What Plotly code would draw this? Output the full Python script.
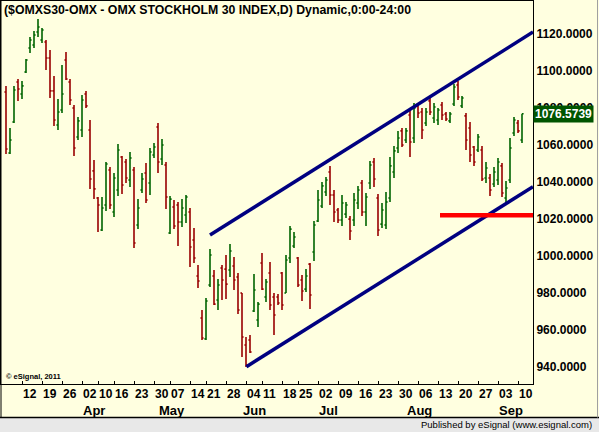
import plotly.graph_objects as go

# ---- data (daily OHLC, trading-day index 0 = 6 Mar 2012 ... 129 = 11 Sep 2012) ----
open_ = [1088.3,1055.4,1072.1,1093.7,1087.2,1099.1,1112.1,1113.7,1120.7,1116.4,
         1115.3,1106.7,1088.9,1070.5,1078.6,1105.6,1093.7,1079.7,1064.0,1067.8,
         1087.2,1067.8,1045.7,1031.1,1013.8,1027.3,1046.2,1023.5,1035.4,1053.2,
         1050.5,1040.8,1046.2,1016.5,1035.4,1044.6,1039.2,1054.3,1069.4,1052.1,
         1048.9,1012.2,1026.2,1027.3,1018.1,1021.9,1023.5,1008.4,989.0,966.3,
         955.0,984.1,989.0,976.0,993.3,992.7,992.2,994.4,988.4,979.8,
         951.7,954.4,970.1,965.2,996.0,977.6,990.6,977.6,977.6,990.6,
         979.8,998.7,1005.2,998.7,986.8,981.9,995.4,1001.9,1018.7,1026.8,
         1034.3,1045.1,1032.7,1024.6,1019.2,1022.4,1019.7,1019.2,1028.4,1039.2,
         1023.5,1039.2,1050.5,1031.1,1017.0,1016.5,1031.1,1045.1,1058.1,1067.3,
         1062.4,1075.9,1063.5,1080.8,1077.5,1071.6,1083.5,1074.3,1073.2,1081.3,
         1076.4,1072.7,1081.8,1092.1,1080.8,1075.4,1068.9,1058.6,1057.0,1057.0,
         1041.9,1041.9,1038.6,1040.8,1048.4,1031.1,1040.8,1066.2,1071.6,1062.4]
high = [1091.6,1068.9,1091.6,1095.3,1094.3,1106.1,1118.0,1121.3,1127.7,1122.9,
        1116.4,1111.0,1097.0,1084.5,1102.9,1109.9,1095.3,1081.3,1074.8,1086.7,
        1088.9,1073.2,1051.6,1031.6,1031.6,1050.5,1047.8,1044.6,1060.2,1053.8,
        1052.1,1055.9,1047.8,1030.5,1044.6,1050.0,1058.1,1060.8,1071.6,1062.9,
        1050.5,1032.2,1030.0,1028.9,1030.5,1032.7,1025.7,1014.9,994.9,970.6,
        977.1,1003.5,992.2,987.3,994.9,1000.3,1006.2,999.2,990.6,979.8,
        956.0,957.1,990.0,974.9,1001.4,987.3,996.5,979.8,979.2,991.1,
        1000.3,1016.0,1012.7,999.2,989.5,992.7,996.0,1018.7,1035.4,1039.7,
        1042.4,1048.4,1035.4,1025.7,1032.7,1028.9,1021.4,1033.8,1037.6,1040.8,
        1033.8,1051.1,1052.7,1033.2,1028.4,1034.3,1053.2,1059.2,1067.3,1068.9,
        1068.9,1079.7,1082.4,1082.4,1079.7,1079.7,1085.1,1082.4,1079.7,1082.9,
        1077.5,1077.5,1092.6,1094.3,1086.2,1077.0,1072.1,1059.2,1065.6,1059.2,
        1050.5,1044.0,1047.8,1052.7,1050.0,1040.3,1063.5,1074.8,1073.2,1076.5739]
low = [1054.8,1054.8,1071.6,1083.5,1084.5,1098.6,1109.4,1112.1,1118.0,1114.8,
       1100.2,1085.1,1070.0,1067.8,1077.0,1094.8,1081.3,1053.8,1062.4,1064.0,
       1079.7,1036.0,1030.5,1012.7,1013.3,1024.1,1025.1,1020.8,1032.2,1033.2,
       1039.2,1037.0,1004.1,1014.3,1033.8,1028.4,1032.7,1052.7,1044.6,1048.9,
       1025.1,1011.6,1014.3,1005.2,1015.4,1017.6,993.8,996.0,982.5,954.4,
       954.4,983.0,973.3,970.6,976.0,976.5,988.4,981.4,968.4,945.2,
       939.8,947.4,969.5,961.4,981.4,974.9,970.6,957.1,973.3,970.6,
       979.8,996.0,1004.1,983.0,975.5,980.3,971.1,997.1,1018.1,1025.7,
       1032.2,1027.3,1018.1,1017.6,1016.0,1020.3,1008.4,1016.0,1025.1,1021.4,
       1016.0,1036.0,1037.0,1010.6,1014.9,1014.3,1028.9,1041.9,1055.4,1058.6,
       1060.8,1053.2,1060.8,1074.3,1062.9,1070.0,1075.9,1071.6,1070.5,1073.2,
       1072.7,1071.6,1080.8,1084.0,1079.7,1057.0,1050.5,1048.4,1055.9,1040.3,
       1039.2,1032.2,1037.0,1038.1,1031.6,1028.4,1039.2,1064.6,1066.2,1060.8]
close = [1057.5,1062.4,1089.4,1089.9,1091.6,1105.6,1116.4,1119.1,1123.4,1121.8,
         1106.7,1088.9,1073.2,1077.5,1087.2,1095.3,1084.0,1058.1,1072.7,1084.0,
         1080.8,1041.3,1036.0,1027.3,1025.7,1049.4,1027.3,1041.9,1057.0,1038.1,
         1041.9,1052.7,1006.8,1025.7,1041.3,1030.0,1055.9,1058.6,1050.5,1059.7,
         1031.6,1030.5,1016.0,1018.1,1025.7,1031.6,1004.6,998.7,986.3,955.5,
         975.5,1000.3,973.8,984.1,986.8,984.6,1002.5,986.8,970.6,956.0,
         940.9,947.9,981.4,973.8,981.9,985.7,973.3,967.9,974.4,973.3,
         997.6,1014.3,1010.0,984.1,980.9,989.0,978.7,1016.5,1030.0,1037.6,
         1040.8,1032.7,1023.5,1019.2,1028.4,1027.3,1013.3,1030.0,1035.4,1023.5,
         1031.6,1048.9,1041.3,1013.8,1024.6,1028.9,1048.4,1056.5,1063.5,1059.7,
         1067.3,1061.3,1079.7,1077.0,1067.8,1077.5,1077.5,1080.2,1078.6,1075.9,
         1073.7,1076.4,1091.0,1085.6,1085.1,1062.4,1054.3,1050.5,1064.0,1041.3,
         1047.3,1035.4,1045.1,1050.5,1033.8,1036.5,1058.1,1073.2,1067.3,1076.5739]

week_idx = [4, 9, 14, 19, 23, 27, 32, 37, 41, 46, 50, 55, 60, 64, 69, 73, 78, 83,
            88, 93, 98, 103, 108, 113, 118, 123, 128]
week_labels = ["12", "19", "26", "02", "10", "16", "23", "30", "07", "14", "21", "28",
               "04", "11", "18", "25", "02", "09", "16", "23", "30", "06", "13", "20",
               "27", "03", "10"]
month_idx = [19, 38, 59, 78, 100, 123]
month_labels = ["Apr", "May", "Jun", "Jul", "Aug", "Sep"]

y_ticks = [940, 960, 980, 1000, 1020, 1040, 1060, 1080, 1100, 1120]
last_price = 1076.5739

upper_x = [51, 131.75]
upper_y = [1011.1, 1120.7]
lower_x = [60.1, 131.75]
lower_y = [940.0, 1037.2]
support_x = [108.5, 131.75]
support_y = [1021.7, 1021.7]

title = "($OMXS30-OMX - OMX STOCKHOLM 30 INDEX,D) Dynamic,0:00-24:00"

BG = "#FFFFE0"
FONT = "Liberation Sans, Arial, sans-serif"

x = list(range(len(close)))

fig = go.Figure()
fig.add_trace(go.Ohlc(
    x=x, open=open_, high=high, low=low, close=close,
    increasing=dict(line=dict(color="#006400", width=1.6)),
    decreasing=dict(line=dict(color="#990000", width=1.6)),
    tickwidth=0.4, hoverinfo="skip", showlegend=False))

for xs, ys, col, w in [(upper_x, upper_y, "#000080", 3.5),
                       (lower_x, lower_y, "#000080", 3.5),
                       (support_x, support_y, "#FF0000", 4.5)]:
    fig.add_trace(go.Scatter(x=xs, y=ys, mode="lines",
                             line=dict(color=col, width=w),
                             hoverinfo="skip", showlegend=False))

fig.update_layout(
    width=599, height=432,
    margin=dict(l=1, r=66, t=1, b=48),
    paper_bgcolor=BG, plot_bgcolor=BG,
    font=dict(family=FONT, color="black"),
    xaxis=dict(range=[-1.25, 131.75], showgrid=False, zeroline=False,
               rangeslider=dict(visible=False),
               tickvals=week_idx, ticktext=["" for _ in week_idx],
               ticks="inside", ticklen=3, tickcolor="black",
               showline=True, linecolor="black", linewidth=1, mirror=True),
    yaxis=dict(range=[930.66, 1137.44], side="right", showgrid=False, zeroline=False,
               tickvals=y_ticks, ticktext=[f"{v:.4f}" for v in y_ticks],
               tickfont=dict(size=12, family=FONT, weight="bold", color="black"),
               ticks="", showline=True, linecolor="black", linewidth=1, mirror=True),
)

ann = []
ann.append(dict(text=title, xref="paper", yref="paper", x=0, y=1,
                xanchor="left", yanchor="top", xshift=1, yshift=0, showarrow=False,
                font=dict(size=12.3, family=FONT, weight="bold", color="black")))
for xi, lab in zip(week_idx, week_labels):
    ann.append(dict(text=lab, xref="x", yref="paper", x=xi, y=0,
                    xanchor="left", yanchor="top", xshift=-1, yshift=-1,
                    showarrow=False,
                    font=dict(size=12, family=FONT, weight="bold", color="black")))
for xi, lab in zip(month_idx, month_labels):
    ann.append(dict(text=lab, xref="x", yref="paper", x=xi, y=0,
                    xanchor="left", yanchor="top", xshift=-1, yshift=-17,
                    showarrow=False,
                    font=dict(size=13, family=FONT, weight="bold", color="black")))
ann.append(dict(text=f"{last_price:.4f}", xref="paper", yref="y", x=1, y=last_price,
                xanchor="left", yanchor="middle", xshift=0, showarrow=False,
                bgcolor="#005500", borderpad=1,
                font=dict(size=12, family=FONT, weight="bold", color="white")))
ann.append(dict(text="© eSignal, 2011", xref="paper", yref="paper", x=0, y=0,
                xanchor="left", yanchor="bottom", xshift=3, yshift=1, showarrow=False,
                font=dict(size=7.5, family=FONT, weight="bold", color="black")))
ann.append(dict(text="Published by eSignal (www.esignal.com)", xref="paper", yref="paper",
                x=(594 - 1) / 532, y=-(424.5 - 384) / 383, xanchor="right", yanchor="middle",
                showarrow=False, font=dict(size=9.5, family=FONT, color="black")))
fig.update_layout(annotations=ann)

# status bar at the bottom and outer frame
px = lambda p: (p - 1) / 532
py = lambda p: (384 - p) / 383
fig.update_layout(shapes=[
    dict(type="rect", xref="paper", yref="paper", x0=px(-2), x1=px(601),
         y0=py(417.5), y1=py(434), fillcolor="#E8E8E8", line=dict(width=0), layer="above"),
    dict(type="line", xref="paper", yref="paper", x0=px(-2), x1=px(601),
         y0=py(417.5), y1=py(417.5), line=dict(color="black", width=1.5), layer="above"),
    dict(type="line", xref="paper", yref="paper", x0=px(1), x1=px(1),
         y0=py(0), y1=py(417.5), line=dict(color="black", width=1), layer="above"),
    dict(type="line", xref="paper", yref="paper", x0=px(597.5), x1=px(597.5),
         y0=py(0), y1=py(417.5), line=dict(color="#A0A0A0", width=1), layer="above"),
])

fig.write_html("out.html")
